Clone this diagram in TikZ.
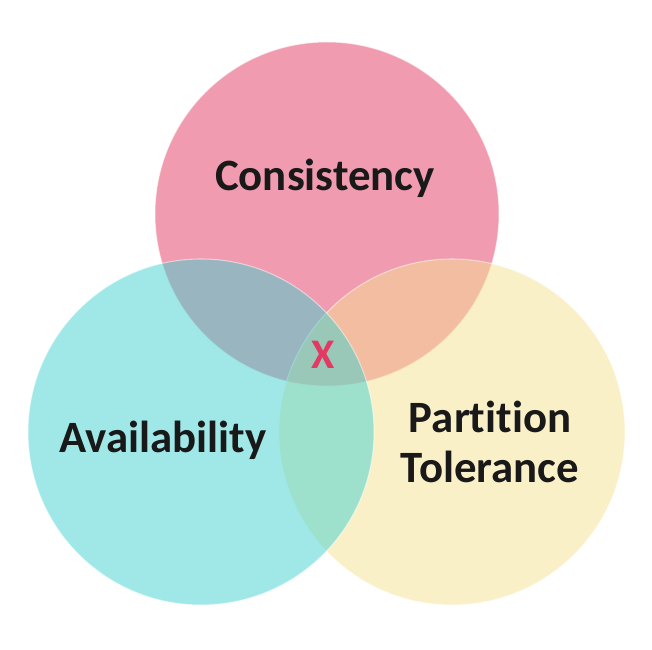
\documentclass[tikz,border=0pt]{standalone}
\usepackage{fontspec}
\setmainfont{Carlito}[Ligatures=NoCommon]
\usepackage{xcolor}
\usepackage{tikz}
\usetikzlibrary{positioning,calc}

\definecolor{consPink}{RGB}{225,55,97}
\definecolor{availCyan}{RGB}{65,209,209}
\definecolor{partYellow}{RGB}{245,225,145}
\definecolor{xRed}{RGB}{226,58,98}

\begin{document}
\begin{tikzpicture}[
    circ1/.style={circle, fill=consPink, fill opacity=0.5, draw=white, draw opacity=0.5, line width=0.6pt, minimum size=6.88cm, inner sep=0pt},
    circ2/.style={circle, fill=partYellow, fill opacity=0.5, draw=white, draw opacity=0.5, line width=0.6pt, minimum size=6.92cm, inner sep=0pt},
    circ3/.style={circle, fill=availCyan, fill opacity=0.5, draw=white, draw opacity=0.5, line width=0.6pt, minimum size=6.92cm, inner sep=0pt},
    lbl/.style={align=center, font=\fontsize{25.5}{28}\selectfont\bfseries, text=black!90},
    xlbl/.style={font=\fontsize{24}{28}\selectfont\bfseries, text=xRed}
]
    \useasboundingbox (0,0) rectangle (13.04,13);
    \node [circ1] (cons) at (6.54,8.72) {};
    \node [circ2] (part) at (9.04,4.36) {};
    \node [circ3] (avail) at (4.02,4.36) {};

    \node [lbl] (consText) at (6.5,9.44) {Consistency};
    \node [lbl] (availText) at (3.26,4.2) {Availability};
    \node [lbl] (partText) at (9.8,4.16) {Partition\\Tolerance};
    \node [xlbl] (center) at (6.46,5.9) {X};
\end{tikzpicture}
\end{document}
